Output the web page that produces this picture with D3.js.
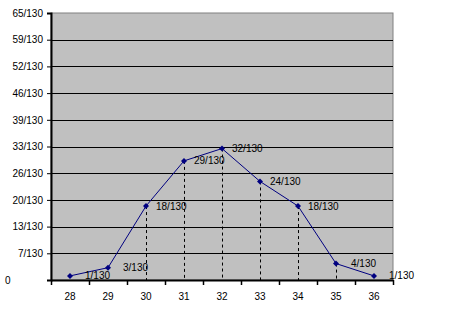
<!DOCTYPE html>
<html>
<head>
<meta charset="utf-8">
<script src="https://cdn.jsdelivr.net/npm/d3@7"></script>
<style>
  body { margin: 0; background: #fff; }
  text { font-family: "Liberation Sans", Arial, sans-serif; }
</style>
</head>
<body>
<svg width="469" height="325"></svg>
<script>
const width = 469, height = 325;

// data
const categories = ["28", "29", "30", "31", "32", "33", "34", "35", "36"];
const counts = [1, 3, 18, 29, 32, 24, 18, 4, 1];
const total = 130;
const dropCats = ["30", "31", "32", "33", "34", "35"];
const yTickValues = [0, 0.05, 0.1, 0.15, 0.2, 0.25, 0.3, 0.35, 0.4, 0.45, 0.5];
const yTickLabels = ["0", "7/130", "13/130", "20/130", "26/130", "33/130", "39/130", "46/130", "52/130", "59/130", "65/130"];

const plot = { left: 51, right: 393, top: 13, bottom: 280 };

const svg = d3.select("svg");

const data = categories.map((c, i) => ({ cat: c, value: counts[i] / total, label: `${counts[i]}/${total}` }));

const x = d3.scaleBand()
  .domain(categories)
  .range([plot.left, plot.right]);

const y = d3.scaleLinear()
  .domain([0, 0.5])
  .range([plot.bottom, plot.top]);

// plot background
svg.append("rect")
  .attr("x", plot.left)
  .attr("y", plot.top)
  .attr("width", plot.right - plot.left)
  .attr("height", plot.bottom - plot.top)
  .attr("fill", "#c0c0c0")
  .attr("stroke", "#808080")
  .attr("stroke-width", 1);

// gridlines
svg.append("g").selectAll("line")
  .data(yTickValues.slice(1, -1))
  .enter().append("line")
  .attr("x1", plot.left)
  .attr("x2", plot.right)
  .attr("y1", d => Math.round(y(d)) + 0.5)
  .attr("y2", d => Math.round(y(d)) + 0.5)
  .attr("stroke", "#000")
  .attr("stroke-width", 1);

// y axis
const yAxis = svg.append("g")
  .attr("transform", `translate(${plot.left},0)`)
  .call(d3.axisLeft(y)
    .tickValues(yTickValues)
    .tickFormat((d, i) => yTickLabels[i])
    .tickSize(4)
    .tickPadding(4));
yAxis.select(".domain").attr("stroke", "#000").attr("stroke-width", 2);
yAxis.selectAll(".tick text")
  .attr("font-size", "10px")
  .attr("fill", "#000")
  .attr("font-family", "Liberation Sans, Arial, sans-serif");
yAxis.selectAll(".tick")
  .filter(d => d === 0)
  .select("text")
  .attr("text-anchor", "start")
  .attr("x", -plot.left + 5);

// x axis
const xAxis = svg.append("g")
  .attr("transform", `translate(0,${plot.bottom})`)
  .call(d3.axisBottom(x).tickSize(0).tickPadding(13));
xAxis.select(".domain").attr("stroke", "#000").attr("stroke-width", 2);
xAxis.selectAll(".tick text")
  .attr("font-size", "10px")
  .attr("fill", "#000")
  .attr("font-family", "Liberation Sans, Arial, sans-serif");

const bounds = categories.map(c => x(c)).concat([x.range()[1]]);
xAxis.append("g").selectAll("line")
  .data(bounds)
  .enter().append("line")
  .attr("x1", d => Math.round(d) + 0.5)
  .attr("x2", d => Math.round(d) + 0.5)
  .attr("y1", 0)
  .attr("y2", 5)
  .attr("stroke", "#000")
  .attr("stroke-width", 1.5);

const cx = d => x(d.cat) + x.bandwidth() / 2;

// drop lines
svg.append("g").selectAll("line")
  .data(data.filter(d => dropCats.includes(d.cat)))
  .enter().append("line")
  .attr("x1", d => Math.round(cx(d)) + 0.5)
  .attr("x2", d => Math.round(cx(d)) + 0.5)
  .attr("y1", d => y(d.value))
  .attr("y2", plot.bottom)
  .attr("stroke", "#000")
  .attr("stroke-width", 1)
  .attr("stroke-dasharray", "3,3");

// line
const line = d3.line()
  .x(cx)
  .y(d => y(d.value));

svg.append("path")
  .datum(data)
  .attr("fill", "none")
  .attr("stroke", "#000080")
  .attr("stroke-width", 1)
  .attr("d", line);

// markers
svg.append("g").selectAll("path")
  .data(data)
  .enter().append("path")
  .attr("transform", d => `translate(${cx(d)},${y(d.value)})`)
  .attr("d", "M0,-3L3,0L0,3L-3,0Z")
  .attr("fill", "#000080");

// data labels
svg.append("g").selectAll("text")
  .data(data)
  .enter().append("text")
  .attr("x", d => cx(d) + (d.label.length === 5 ? 15 : 10))
  .attr("y", d => y(d.value))
  .attr("dy", "0.35em")
  .attr("font-size", "10px")
  .attr("fill", "#000")
  .text(d => d.label);
</script>
</body>
</html>
